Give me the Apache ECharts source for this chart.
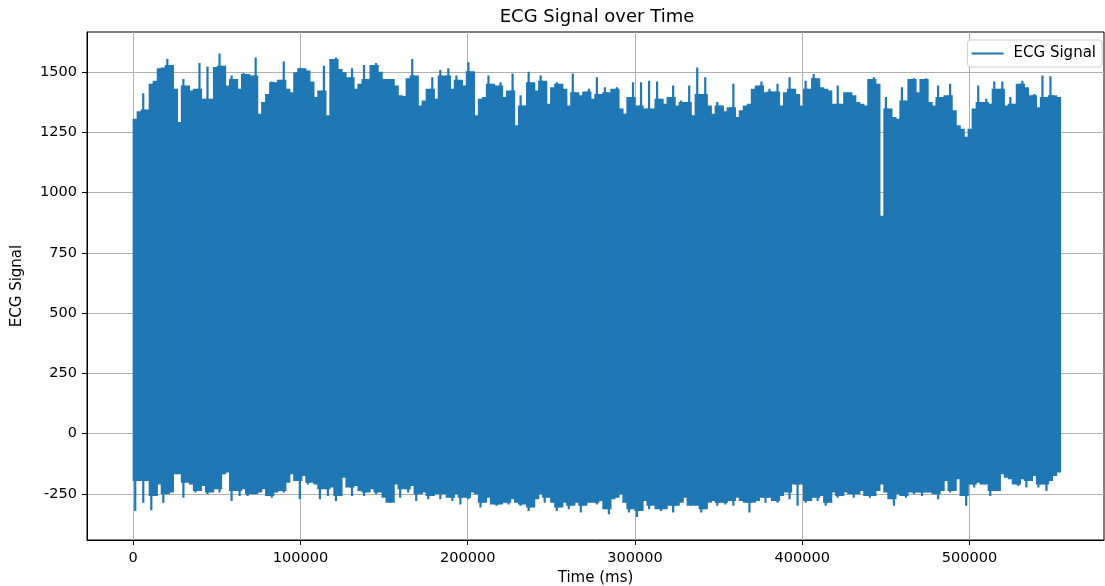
<!DOCTYPE html>
<html>
<head>
<meta charset="utf-8">
<title>ECG Signal over Time</title>
<script src="https://cdn.jsdelivr.net/npm/echarts@6/dist/echarts.min.js"></script>
<style>
  html, body { margin: 0; padding: 0; background: #fff; }
  #chart { width: 1105px; height: 586px; }
</style>
</head>
<body>
<div id="chart"></div>
<script>
// one sample every 2400 ms: highest and lowest value of the trace in that slot
var timeStep = 2400;

var topValues = [
  1302, 1333, 1408, 1340, 1447, 1460, 1511, 1515, 1550, 1525,
  1426, 1289, 1467, 1440, 1419, 1426, 1533, 1385, 1519, 1385,
  1517, 1573, 1522, 1440, 1481, 1467, 1426, 1492, 1488, 1481,
  1556, 1323, 1371, 1405, 1456, 1453, 1464, 1539, 1426, 1412,
  1495, 1513, 1511, 1502, 1456, 1392, 1419, 1522, 1316, 1550,
  1556, 1508, 1495, 1474, 1511, 1426, 1447, 1525, 1467, 1525,
  1533, 1497, 1467, 1467, 1467, 1440, 1399, 1396, 1470, 1550,
  1481, 1357, 1378, 1426, 1474, 1385, 1504, 1481,
  1511, 1426, 1481, 1464, 1440, 1536, 1499, 1316, 1385, 1392,
  1481, 1447, 1440, 1453, 1392, 1419, 1490, 1275, 1399, 1357,
  1497, 1453, 1419, 1481, 1460, 1364, 1433, 1453, 1447, 1426,
  1357, 1490, 1412, 1399, 1415, 1426, 1385, 1474, 1405, 1433,
  1412, 1426, 1433, 1344, 1323, 1392, 1453, 1357, 1453, 1344,
  1460, 1344, 1456, 1385, 1364, 1392, 1440, 1357, 1378, 1371,
  1440, 1316, 1515, 1405, 1474, 1357, 1323, 1371, 1357, 1333,
  1350, 1447, 1309, 1337, 1357, 1364, 1426, 1440, 1456,
  1412, 1426, 1415, 1447, 1357, 1412, 1474, 1426, 1405, 1357,
  1460, 1426, 1488, 1470, 1433, 1426, 1419, 1364, 1440, 1364,
  1412, 1412, 1399, 1371, 1364, 1357, 1467, 1474, 1447, 900,
  1392, 1344, 1309, 1302, 1433, 1378, 1467, 1470, 1412, 1467,
  1470, 1371, 1357, 1440, 1392, 1399, 1447, 1337, 1275, 1261,
  1227, 1261, 1344, 1440, 1371, 1385, 1364, 1456, 1426, 1456,
  1357, 1392, 1364, 1447, 1460, 1433, 1399, 1405, 1350, 1481,
  1392, 1478, 1399, 1392
];

var bottomValues = [
  -316, -192, -282, -192, -313, -254, -206, -282, -247, -240,
  -164, -164, -261, -199, -206, -240, -233, -213, -247, -240,
  -226, -240, -164, -157, -275, -233, -254, -226, -254, -247,
  -247, -240, -226, -254, -261, -240, -233, -240, -199, -164,
  -192, -268, -171, -206, -199, -206, -268, -226, -254, -219,
  -275, -254, -178, -219, -254, -213, -233, -254, -240, -226,
  -247, -240, -261, -282, -282, -206, -261, -226, -240, -213,
  -275, -247, -240, -268, -254, -247, -268, -247,
  -261, -275, -247, -289, -261, -268, -240, -247, -302, -282,
  -261, -289, -295, -289, -282, -289, -268, -282, -295, -289,
  -316, -302, -268, -247, -282, -261, -282, -316, -302, -282,
  -309, -295, -282, -323, -295, -282, -282, -289, -275, -309,
  -330, -268, -261, -247, -282, -323, -309, -341, -316, -275,
  -309, -295, -309, -316, -309, -295, -323, -295, -282, -261,
  -295, -295, -295, -323, -309, -282, -275, -295, -282, -289,
  -275, -295, -261, -275, -282, -323, -282, -275, -261,
  -282, -261, -275, -282, -254, -240, -268, -206, -295, -206,
  -282, -275, -261, -275, -254, -295, -282, -240, -261, -254,
  -240, -247, -261, -247, -233, -254, -261, -254, -233, -206,
  -240, -268, -295, -247, -254, -261, -240, -247, -240, -254,
  -240, -240, -247, -268, -233, -192, -240, -233, -185, -254,
  -295, -206, -219, -199, -206, -206, -254, -233, -233, -164,
  -178, -185, -206, -213, -185, -219, -192, -171, -219, -206,
  -233, -192, -171, -157
];

var xTicks = [0, 100000, 200000, 300000, 400000, 500000];
var yTicks = [-250, 0, 250, 500, 750, 1000, 1250, 1500];

var seriesData = [];
for (var i = 0; i < topValues.length; i++) {
    seriesData.push([i * timeStep, bottomValues[i], topValues[i]]);
}

var font = 'DejaVu Sans';
var lineColor = '#1f77b4';

function plain(v) { return String(v); }

// a slot is a solid block; where it sticks out past both neighbours it ends in a thin spike
function renderSlot(params, api) {
    var k = params.dataIndex;
    var n = topValues.length;
    var t = api.value(0);
    var hi = api.value(2), lo = api.value(1);
    var nbTop = Math.max(k > 0 ? topValues[k - 1] : -1e9, k < n - 1 ? topValues[k + 1] : -1e9);
    var nbBot = Math.min(k > 0 ? bottomValues[k - 1] : 1e9, k < n - 1 ? bottomValues[k + 1] : 1e9);
    var shTop = Math.min(hi, nbTop);
    var shBot = Math.max(lo, nbBot);
    var w = api.size([timeStep, 0])[0];
    var x0 = api.coord([t, 0])[0] - 0.6;
    var x1 = x0 + w + 1.2;
    var xc = (x0 + x1) / 2, hw = 1.1;
    var yHi = api.coord([t, hi])[1] - 1, yShT = api.coord([t, shTop])[1] - 1;
    var yLo = api.coord([t, lo])[1] + 1, yShB = api.coord([t, shBot])[1] + 1;
    return {
        type: 'polygon',
        shape: { points: [
            [x0, yShT], [xc - hw, yShT], [xc - hw, yHi], [xc + hw, yHi], [xc + hw, yShT], [x1, yShT],
            [x1, yShB], [xc + hw, yShB], [xc + hw, yLo], [xc - hw, yLo], [xc - hw, yShB], [x0, yShB]
        ] },
        style: { fill: lineColor }
    };
}

var chart = echarts.init(document.getElementById('chart'), null, { renderer: 'canvas' });
chart.setOption({
    animation: false,
    backgroundColor: '#fff',
    textStyle: { fontFamily: font },
    title: {
        text: 'ECG Signal over Time',
        left: 597, top: 8, padding: 0,
        textAlign: 'center',
        textStyle: { fontFamily: font, fontSize: 18, fontWeight: 'normal', color: '#000' }
    },
    legend: {
        data: [{ name: 'ECG Signal', icon: 'rect' }],
        right: 3, top: 40,
        itemWidth: 32, itemHeight: 2,
        padding: [6, 6, 6, 4],
        backgroundColor: '#fff',
        borderColor: '#d0d0d0', borderWidth: 1, borderRadius: 3,
        textStyle: { fontFamily: font, fontSize: 15, color: '#000', padding: [0, 0, 0, 5] }
    },
    grid: {
        left: 87, right: 1, top: 32, bottom: 46,
        outerBoundsMode: 'none',
        show: true, borderColor: '#000', borderWidth: 1, backgroundColor: 'transparent'
    },
    xAxis: {
        type: 'value',
        min: -27640, max: 580400,
        name: 'Time (ms)', nameLocation: 'middle', nameGap: 31,
        nameTextStyle: { fontFamily: font, fontSize: 15, color: '#000' },
        axisLine: { show: true, onZero: false, lineStyle: { color: '#000', width: 1 } },
        axisTick: { show: true, length: 5, customValues: xTicks, lineStyle: { color: '#000' } },
        axisLabel: { customValues: xTicks, formatter: plain, margin: 11, fontFamily: font, fontSize: 14.5, color: '#000' },
        splitLine: { show: true, lineStyle: { color: '#b0b0b0', width: 1 } }
    },
    yAxis: {
        type: 'value',
        min: -440.8, max: 1665.9,
        name: 'ECG Signal', nameLocation: 'middle', nameGap: 62, nameRotate: 90,
        nameTextStyle: { fontFamily: font, fontSize: 15, color: '#000' },
        axisLine: { show: true, onZero: false, lineStyle: { color: '#000', width: 1 } },
        axisTick: { show: true, length: 5, customValues: yTicks, lineStyle: { color: '#000' } },
        axisLabel: { customValues: yTicks, formatter: plain, margin: 10, fontFamily: font, fontSize: 14.5, color: '#000' },
        splitLine: { show: true, lineStyle: { color: '#b0b0b0', width: 1 } }
    },
    series: [{
        name: 'ECG Signal',
        type: 'custom',
        itemStyle: { color: lineColor },
        encode: { x: 0, y: [1, 2] },
        data: seriesData,
        renderItem: renderSlot
    }]
});
</script>
</body>
</html>
